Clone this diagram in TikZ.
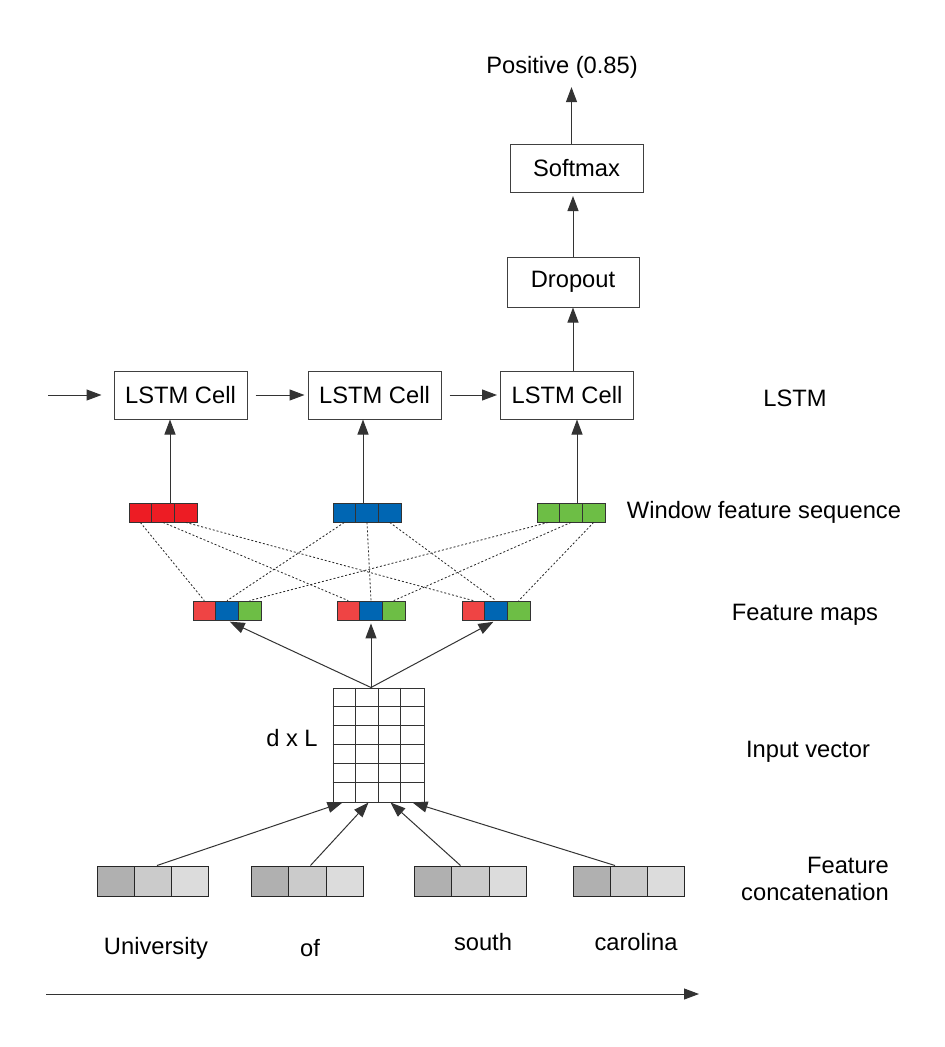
\documentclass[tikz,border=0pt]{standalone}
\usepackage{fontspec}
\setmainfont{Liberation Sans}
\usetikzlibrary{arrows.meta}

\definecolor{winred}{HTML}{ED1C24}
\definecolor{winblue}{HTML}{0066B3}
\definecolor{wingreen}{HTML}{6DBE45}
\definecolor{fmred}{HTML}{EF4444}
\definecolor{catdark}{HTML}{B0B0B0}
\definecolor{catmid}{HTML}{CBCBCB}
\definecolor{catlight}{HTML}{DCDCDC}

\tikzset{
  layerbox/.style={draw=black!75, line width=1pt, minimum width=133pt, minimum height=48pt, inner sep=0pt},
  arr/.style={-{Triangle[length=15pt,width=11pt]}, draw=black!80, line width=1pt},
  smallcell/.style={draw=black!80, line width=0.8pt, minimum width=22.7pt, minimum height=19pt, inner sep=0pt},
  catcell/.style={draw=black!85, line width=1pt, minimum width=37.2pt, minimum height=30pt, inner sep=0pt},
  link/.style={draw=black!85, line width=0.8pt, dash pattern=on 2pt off 2pt},
  tag/.style={anchor=base, inner sep=0pt}
}

\begin{document}
\begin{tikzpicture}[x=1pt, y=-1pt, font=\fontsize{23.7pt}{28pt}\selectfont]
    \fill[white] (0,0) rectangle (945,1047);
    \useasboundingbox (0,0) rectangle (945,1047);
    % Draw the output part (softmax, dropout and the prediction).
    \node[tag] (out) at (562,73) {Positive (0.85)};
    \node[layerbox] (softmax) at (576.5,168.5) {Softmax};
    \node[layerbox, minimum width=132pt, minimum height=50pt] (dropout) at (573,282) {Dropout};
    % Draw the LSTM cells.
    \node[layerbox] (cell1) at (180.5,395) {LSTM Cell};
    \node[layerbox] (cell2) at (374.5,395) {LSTM Cell};
    \node[layerbox] (cell3) at (567,395) {LSTM Cell};
    \coordinate (in) at (48,395);
    \draw[arr, shorten >=12pt] (in) -- (cell1.west);
    \draw[arr, shorten <=8pt, shorten >=3pt] (cell1.east) -- (cell2.west);
    \draw[arr, shorten <=8pt, shorten >=3pt] (cell2.east) -- (cell3.west);
    \draw[arr] (dropout.south |- cell3.north) -- (dropout.south);
    \draw[arr, shorten >=3pt] (dropout.north) -- (dropout.north |- softmax.south);
    \draw[arr] ([xshift=-5pt]softmax.north) -- ([xshift=-5pt, yshift=-9pt]softmax.north |- out.south);
    % Draw the window feature sequence and the feature maps.
    \foreach \n/\x/\c in {1/163/winred, 2/367/winblue, 3/571/wingreen}
      \foreach \j in {1,2,3}
        \node[smallcell, fill=\c] (win\n-\j) at ({\x+(\j-2)*22.7},512.5) {};
    \foreach \n/\x in {1/227, 2/371, 3/496}
      \foreach \j/\c in {1/fmred, 2/winblue, 3/wingreen}
        \node[smallcell, fill=\c] (fm\n-\j) at ({\x+(\j-2)*22.7},610.5) {};
    \foreach \n/\dx in {1/7, 2/-4, 3/6}
      \draw[arr] ([xshift=\dx pt]win\n-2.north) -- ([xshift=\dx pt]win\n-2.north |- cell\n.south);
    \foreach \n in {1,2,3}
      \foreach \j in {1,2,3}
        \draw[link] (win\n-\j.south) -- (fm\j-\n.north);
    % Draw the input vector (d x L grid).
    \node[draw=black!80, line width=1pt, minimum width=91pt, minimum height=114pt, inner sep=0pt] (grid) at (378.5,745) {};
    \foreach \i in {1,2,3}
      \draw[black!80, line width=0.8pt] ([xshift=\i*22.75pt]grid.north west) -- ([xshift=\i*22.75pt]grid.south west);
    \foreach \i in {1,...,5}
      \draw[black!80, line width=0.8pt] ([yshift=-\i*19pt]grid.north west) -- ([yshift=-\i*19pt]grid.north east);
    \node[tag] (dxl) at (292,746) {d x L};
    \coordinate (gtop) at ([xshift=-7.5pt]grid.north);
    \foreach \n in {1,2,3}
      \draw[arr, shorten >=3pt] (gtop) -- (fm\n-2.south);
    % Draw the feature concatenation of the words.
    \foreach \n/\x in {1/153, 2/307.5, 3/470.5, 4/629}
      \foreach \j/\c in {1/catdark, 2/catmid, 3/catlight}
        \node[catcell, fill=\c] (cat\n-\j) at ({\x+(\j-2)*37.2},881) {};
    \foreach \n/\dx/\tx in {1/4/-36, 2/3/-10, 3/-10/12, 4/-14/34}
      \draw[arr] ([xshift=\dx pt]cat\n-2.north) -- ([xshift=\tx pt]grid.south);
    \node[tag] (w1) at (156,954) {University};
    \node[tag] (w2) at (310,956) {of};
    \node[tag] (w3) at (483,950) {south};
    \node[tag] (w4) at (636,950) {carolina};
    \coordinate (tstart) at (46,994);
    \coordinate (tend) at (699,994);
    \draw[arr] (tstart) -- (tend);
    % Draw the layer names on the right.
    \node[tag] (lstm) at (795,406) {LSTM};
    \node[tag] (winlabel) at (764,518) {Window feature sequence};
    \node[tag] (fmlabel) at (805,620) {Feature maps};
    \node[tag] (inlabel) at (808,757) {Input vector};
    \node[tag, anchor=base east, align=right] (catlabel) at (889,900) {Feature\\[-1.5pt]concatenation};
  \end{tikzpicture}
\end{document}
